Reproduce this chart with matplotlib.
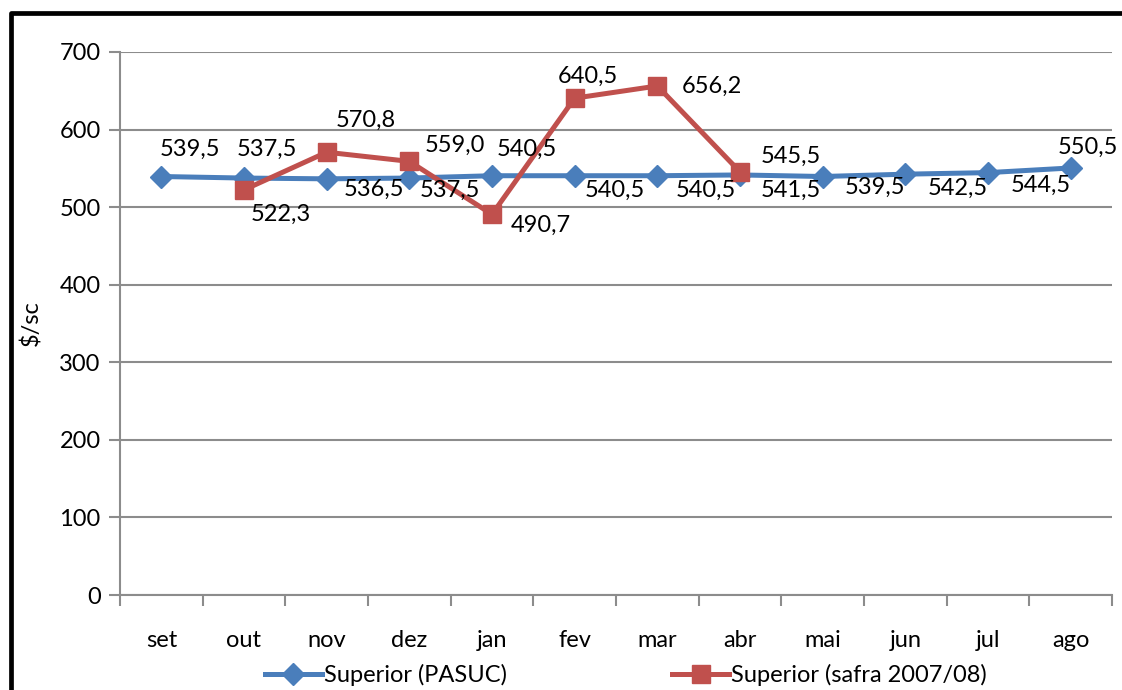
import matplotlib.pyplot as plt
from matplotlib.lines import Line2D
import numpy as np

plt.rcParams['font.family'] = ['Lato', 'DejaVu Sans']

months = ['set', 'out', 'nov', 'dez', 'jan', 'fev', 'mar', 'abr', 'mai', 'jun', 'jul', 'ago']
pasuc = [539.5, 537.5, 536.5, 537.5, 540.5, 540.5, 540.5, 541.5, 539.5, 542.5, 544.5, 550.5]
safra_idx = [1, 2, 3, 4, 5, 6, 7]
safra = [522.3, 570.8, 559.0, 490.7, 640.5, 656.2, 545.5]

# label offsets in pixels (dx, dy up)
pasuc_off = [(29, 27), (23, 29), (47, -11), (41, -12), (35, 26), (40, -15),
             (48, -15), (51, -15), (52, -11), (52, -14), (53, -13), (17, 21)]
safra_off = [(37, -24), (39, 32), (46, 16), (49, -11), (13, 22), (55, 0), (51, 16)]

blue = '#4a7ebb'
red = '#c0504d'
grey = '#8c8c8c'
fs = 17

fig = plt.figure(figsize=(11.22, 6.9), dpi=100)
ax = fig.add_axes([120 / 1122, 1 - 595 / 690, 992 / 1122, 543 / 690])

x = np.arange(len(months))
ax.plot(x, pasuc, color=blue, lw=3.6, marker='D', ms=11, label='Superior (PASUC)', zorder=3)
ax.plot(safra_idx, safra, color=red, lw=3.6, marker='s', ms=13, label='Superior (safra 2007/08)', zorder=4)

for xi, v, (dx, dy) in zip(x, pasuc, pasuc_off):
    ax.annotate(f'{v:.1f}'.replace('.', ','), (xi, v), xytext=(dx, dy), textcoords='offset pixels',
                ha='center', va='center', fontsize=fs, zorder=5)
for xi, v, (dx, dy) in zip(safra_idx, safra, safra_off):
    ax.annotate(f'{v:.1f}'.replace('.', ','), (xi, v), xytext=(dx, dy), textcoords='offset pixels',
                ha='center', va='center', fontsize=fs, zorder=5)

ax.set_xlim(-0.5, 11.5)
ax.set_ylim(0, 700)
ax.set_yticks(range(0, 701, 100))
ax.set_xticks(x)
ax.set_xticklabels(months, fontsize=fs)
ax.set_xticks(np.arange(-0.5, 12, 1), minor=True)
ax.tick_params(axis='x', which='major', length=0, pad=25)
ax.tick_params(axis='x', which='minor', length=8, width=1.5, color=grey, direction='out')
ax.tick_params(axis='y', length=8, width=1.5, color=grey, labelsize=fs, pad=6)
ax.grid(axis='y', color=grey, lw=1.5)
ax.set_axisbelow(True)
for s in ['top', 'right']:
    ax.spines[s].set_visible(False)
for s in ['left', 'bottom']:
    ax.spines[s].set_color(grey)
    ax.spines[s].set_linewidth(1.5)
ax.set_ylabel('$/sc', fontsize=fs, labelpad=12)

fig.legend(loc='center', bbox_to_anchor=(0.558, 1 - 675 / 690), ncol=2, frameon=False,
           fontsize=fs, handlelength=2.4, handletextpad=0.1, columnspacing=7)

# outer frame (left and top visible)
fig.add_artist(Line2D([10.5 / 1122, 10.5 / 1122, 1], [0, 1 - 13 / 690, 1 - 13 / 690],
                      transform=fig.transFigure, color='black', lw=3.4))

fig.savefig('out.png', dpi=100)
